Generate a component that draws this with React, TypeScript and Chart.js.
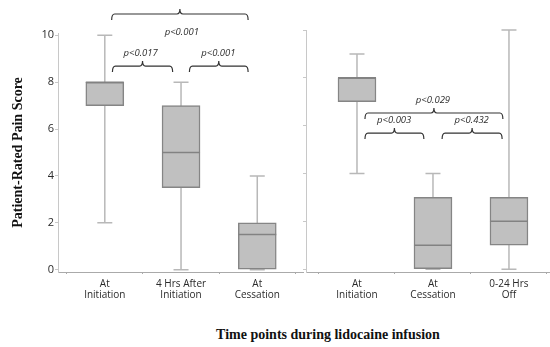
import React, { useEffect, useRef } from 'react';
import { Chart, registerables } from 'chart.js';

Chart.register(...registerables);

// ---- data ----
const positions = [1, 2, 3];
const yTicks = [0, 2, 4, 6, 8, 10];

const leftCategories = [['At', 'Initiation'], ['4 Hrs After', 'Initiation'], ['At', 'Cessation']];
const leftMin = [2, 0, 0];
const leftQ1 = [7, 3.5, 0];
const leftMedian = [8, 5, 1.5];
const leftQ3 = [8, 7, 2];
const leftMax = [10, 8, 4];

const rightCategories = [['At', 'Initiation'], ['At', 'Cessation'], ['0-24 Hrs', 'Off']];
const rightMin = [4, 0, 0];
const rightQ1 = [7, 0, 1];
const rightMedian = [8, 1, 2];
const rightQ3 = [8, 3, 3];
const rightMax = [9, 4, 10];

const leftBrackets = [
  { from: 1.09, to: 2.88, y: 10.91, label: 'p<0.001', labelX: 2.01, labelY: 10.14 },
  { from: 1.1, to: 1.89, y: 8.69, label: 'p<0.017', labelX: 1.47, labelY: 9.25 },
  { from: 2.11, to: 2.88, y: 8.69, label: 'p<0.001', labelX: 2.49, labelY: 9.25 },
];
const rightBrackets = [
  { from: 1.105, to: 2.92, y: 6.53, label: 'p<0.029', labelX: 2.0, labelY: 7.07 },
  { from: 1.105, to: 1.88, y: 5.69, label: 'p<0.003', labelX: 1.49, labelY: 6.23 },
  { from: 2.12, to: 2.91, y: 5.69, label: 'p<0.432', labelX: 2.51, labelY: 6.23 },
];

const SANS = '"Open Sans", "Liberation Sans", sans-serif';
const SERIF = '"Liberation Serif", "DejaVu Serif", serif';

type Bracket = { from: number; to: number; y: number; label: string; labelX: number; labelY: number };

function makeBoxPlugin(mins: number[], medians: number[], maxs: number[], brackets: Bracket[]) {
  return {
    id: 'boxExtras',
    beforeDatasetsDraw(chart: any) {
      const { ctx, scales } = chart;
      const xs = scales.x, ys = scales.y;
      ctx.save();
      ctx.strokeStyle = '#b8b8b8';
      ctx.lineWidth = 1.5;
      positions.forEach((p, i) => {
        const x = xs.getPixelForValue(p);
        const y1 = ys.getPixelForValue(mins[i]);
        const y2 = ys.getPixelForValue(maxs[i]);
        ctx.beginPath();
        ctx.moveTo(x, y1);
        ctx.lineTo(x, y2);
        ctx.moveTo(x - 7.5, y1);
        ctx.lineTo(x + 7.5, y1);
        ctx.moveTo(x - 7.5, y2);
        ctx.lineTo(x + 7.5, y2);
        ctx.stroke();
      });
      ctx.restore();
    },
    afterDatasetsDraw(chart: any) {
      const { ctx, scales } = chart;
      const xs = scales.x, ys = scales.y;
      ctx.save();
      ctx.strokeStyle = '#828282';
      ctx.lineWidth = 1.5;
      positions.forEach((p, i) => {
        const x = xs.getPixelForValue(p);
        const y = ys.getPixelForValue(medians[i]);
        ctx.beginPath();
        ctx.moveTo(x - 19, y);
        ctx.lineTo(x + 19, y);
        ctx.stroke();
      });
      ctx.strokeStyle = '#333333';
      ctx.lineWidth = 1.2;
      ctx.fillStyle = '#2e2e2e';
      ctx.font = `italic 9.5px ${SANS}`;
      ctx.textAlign = 'center';
      ctx.textBaseline = 'middle';
      brackets.forEach((b) => {
        const x1 = xs.getPixelForValue(b.from);
        const x2 = xs.getPixelForValue(b.to);
        const y = ys.getPixelForValue(b.y);
        const xm = (x1 + x2) / 2;
        const drop = 6, rise = 5, r = 3;
        ctx.beginPath();
        ctx.moveTo(x1, y + drop);
        ctx.quadraticCurveTo(x1, y, x1 + r, y);
        ctx.lineTo(xm - r, y);
        ctx.quadraticCurveTo(xm, y, xm, y - rise);
        ctx.quadraticCurveTo(xm, y, xm + r, y);
        ctx.lineTo(x2 - r, y);
        ctx.quadraticCurveTo(x2, y, x2, y + drop);
        ctx.stroke();
        ctx.fillText(b.label, xs.getPixelForValue(b.labelX), ys.getPixelForValue(b.labelY));
      });
      ctx.restore();
    },
  };
}

function makeConfig(opts: {
  categories: string[][];
  q1: number[];
  q3: number[];
  mins: number[];
  medians: number[];
  maxs: number[];
  brackets: Bracket[];
  xMin: number;
  xMax: number;
  yMin: number;
  yMax: number;
  axisWidth: number;
  padTop: number;
  padRight: number;
  showYLabels: boolean;
  canvasHeight: number;
  bottom: number;
}): any {
  return {
    type: 'bar',
    data: {
      datasets: [
        {
          data: positions.map((p, i) => ({ x: p, y: [opts.q1[i], opts.q3[i]] })),
          backgroundColor: '#c0c0c0',
          borderColor: '#858585',
          borderWidth: 1.5,
          borderSkipped: false,
          barThickness: 38,
        },
      ],
    },
    options: {
      responsive: false,
      animation: false,
      layout: { padding: { top: opts.padTop, right: opts.padRight, left: 0, bottom: 0 } },
      plugins: { legend: { display: false }, tooltip: { enabled: false } },
      scales: {
        x: {
          type: 'linear',
          min: opts.xMin,
          max: opts.xMax,
          offset: false,
          afterBuildTicks: (scale: any) => {
            scale.ticks = positions.map((v) => ({ value: v }));
          },
          afterFit: (scale: any) => {
            scale.height = opts.canvasHeight - opts.bottom;
          },
          grid: { drawOnChartArea: false, drawTicks: true, tickLength: 2, color: '#aaaaaa' },
          border: { display: true, color: '#aaaaaa', width: 1 },
          ticks: {
            autoSkip: false,
            maxRotation: 0,
            minRotation: 0,
            padding: 5,
            color: '#2a2a2a',
            font: { family: SANS, size: 10, lineHeight: 1.05 },
            callback: (v: number) => opts.categories[positions.indexOf(v)] ?? '',
          },
        },
        y: {
          type: 'linear',
          min: opts.yMin,
          max: opts.yMax,
          afterBuildTicks: (scale: any) => {
            scale.ticks = yTicks.map((v) => ({ value: v }));
          },
          afterFit: (scale: any) => {
            scale.width = opts.axisWidth;
          },
          grid: { drawOnChartArea: false, drawTicks: true, tickLength: 3, color: '#c8c8c8' },
          border: { display: true, color: '#c8c8c8', width: 1 },
          ticks: {
            display: opts.showYLabels,
            padding: 1,
            color: '#2a2a2a',
            font: { family: SANS, size: 11 },
          },
          title: {
            display: opts.showYLabels,
            text: 'Patient-Rated Pain Score',
            color: '#111',
            font: { family: SERIF, size: 14, weight: 'bold' },
            padding: { top: 10, bottom: 0 },
          },
        },
      },
    },
    plugins: [makeBoxPlugin(opts.mins, opts.medians, opts.maxs, opts.brackets)],
  };
}

export default function App() {
  const leftRef = useRef<HTMLCanvasElement | null>(null);
  const rightRef = useRef<HTMLCanvasElement | null>(null);

  useEffect(() => {
    const H = 310;
    const left = new Chart(
      leftRef.current as HTMLCanvasElement,
      makeConfig({
        categories: leftCategories,
        q1: leftQ1,
        q3: leftQ3,
        mins: leftMin,
        medians: leftMedian,
        maxs: leftMax,
        brackets: leftBrackets,
        xMin: 0.386,
        xMax: 3.6,
        yMin: -0.1,
        yMax: 10.1,
        axisWidth: 58,
        padTop: 33,
        padRight: 1,
        showYLabels: true,
        canvasHeight: H,
        bottom: 272,
      })
    );
    const right = new Chart(
      rightRef.current as HTMLCanvasElement,
      makeConfig({
        categories: rightCategories,
        q1: rightQ1,
        q3: rightQ3,
        mins: rightMin,
        medians: rightMedian,
        maxs: rightMax,
        brackets: rightBrackets,
        xMin: 0.329,
        xMax: 3.54,
        yMin: -0.12,
        yMax: 10,
        axisWidth: 6,
        padTop: 30,
        padRight: 0,
        showYLabels: false,
        canvasHeight: H,
        bottom: 272,
      })
    );
    return () => {
      left.destroy();
      right.destroy();
    };
  }, []);

  return (
    <div
      style={{
        position: 'absolute',
        left: 0,
        top: 0,
        width: 550,
        height: 347,
        background: '#ffffff',
        overflow: 'hidden',
      }}
    >
      <canvas
        ref={leftRef}
        width={304}
        height={310}
        style={{ position: 'absolute', left: 0, top: 0, width: 304, height: 310 }}
      />
      <canvas
        ref={rightRef}
        width={250}
        height={310}
        style={{ position: 'absolute', left: 300, top: 0, width: 250, height: 310 }}
      />
      <div
        style={{
          position: 'absolute',
          left: 128,
          top: 327,
          width: 400,
          textAlign: 'center',
          fontFamily: SERIF,
          fontWeight: 'bold',
          fontSize: 14,
          lineHeight: '16px',
          color: '#111',
          whiteSpace: 'nowrap',
        }}
      >
        Time points during lidocaine infusion
      </div>
    </div>
  );
}
